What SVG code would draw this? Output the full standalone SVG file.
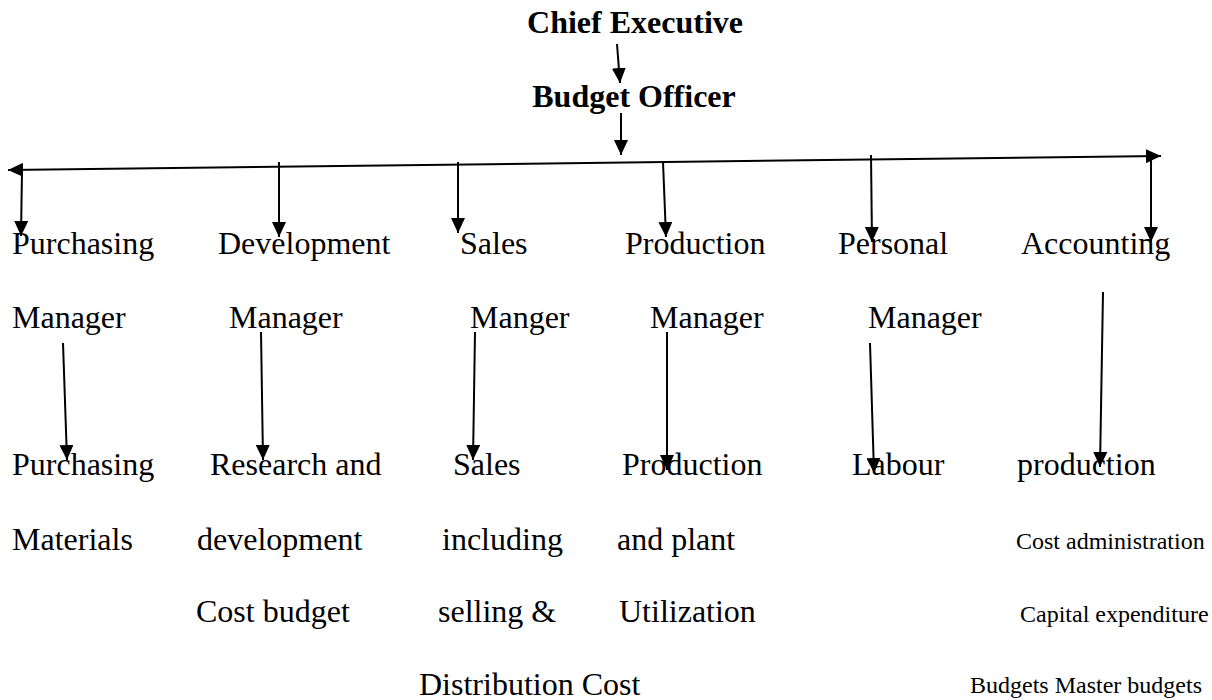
<svg xmlns="http://www.w3.org/2000/svg" width="1212" height="700" viewBox="0 0 1212 700">
<style>
text{font-family:"Liberation Serif","Times New Roman",serif;fill:#000}
.b{font-weight:bold;font-size:32px}
.r{font-size:32px}
.s{font-size:24px}
.c{fill:none;stroke:#000;stroke-width:2}
</style>
<defs>
<marker id="ah" markerUnits="userSpaceOnUse" markerWidth="15" markerHeight="14" refX="15" refY="7" orient="auto-start-reverse" viewBox="0 0 15 14">
<path d="M0,0 L15,7 L0,14 z" fill="#000"/>
</marker>
</defs>
<rect width="1212" height="700" fill="#fff"/>
<g id="connectors">
<line class="c" x1="617" y1="44" x2="620" y2="83" marker-end="url(#ah)"/>
<line class="c" x1="621" y1="113" x2="621" y2="155" marker-end="url(#ah)"/>
<line class="c" x1="8" y1="170" x2="1161" y2="156" marker-start="url(#ah)" marker-end="url(#ah)"/>
<line class="c" x1="22" y1="170" x2="21" y2="236" marker-end="url(#ah)"/>
<line class="c" x1="279" y1="162" x2="279" y2="237" marker-end="url(#ah)"/>
<line class="c" x1="458" y1="162" x2="458" y2="233" marker-end="url(#ah)"/>
<line class="c" x1="663" y1="162" x2="666" y2="237" marker-end="url(#ah)"/>
<line class="c" x1="871" y1="155" x2="872" y2="242" marker-end="url(#ah)"/>
<line class="c" x1="1151" y1="157" x2="1151" y2="242" marker-end="url(#ah)"/>
<line class="c" x1="63" y1="343" x2="67" y2="460" marker-end="url(#ah)"/>
<line class="c" x1="261" y1="332" x2="263" y2="460" marker-end="url(#ah)"/>
<line class="c" x1="475" y1="332" x2="473" y2="460" marker-end="url(#ah)"/>
<line class="c" x1="667" y1="332" x2="667" y2="470" marker-end="url(#ah)"/>
<line class="c" x1="870" y1="343" x2="874" y2="473" marker-end="url(#ah)"/>
<line class="c" x1="1103" y1="292" x2="1100" y2="467" marker-end="url(#ah)"/>
</g>
<g id="chief-executive"><text class="b" x="635" y="33" text-anchor="middle">Chief Executive</text></g>
<g id="budget-officer"><text class="b" x="634" y="107" text-anchor="middle">Budget Officer</text></g>
<g id="purchasing-manager"><text class="r" x="12" y="254">Purchasing</text><text class="r" x="12" y="328">Manager</text></g>
<g id="development-manager"><text class="r" x="218" y="254">Development</text><text class="r" x="229" y="328">Manager</text></g>
<g id="sales-manager"><text class="r" x="460" y="254">Sales</text><text class="r" x="470" y="328">Manger</text></g>
<g id="production-manager"><text class="r" x="625" y="254">Production</text><text class="r" x="650" y="328">Manager</text></g>
<g id="personal-manager"><text class="r" x="838" y="254">Personal</text><text class="r" x="868" y="328">Manager</text></g>
<g id="accounting"><text class="r" x="1021" y="254">Accounting</text></g>
<g id="purchasing-materials"><text class="r" x="12" y="475">Purchasing</text><text class="r" x="12" y="550">Materials</text></g>
<g id="research-development"><text class="r" x="210" y="475">Research and</text><text class="r" x="197" y="550">development</text><text class="r" x="196" y="622">Cost budget</text></g>
<g id="sales-budget"><text class="r" x="453" y="475">Sales</text><text class="r" x="442" y="550">including</text><text class="r" x="438" y="622">selling &amp;</text><text class="r" x="419" y="695">Distribution Cost</text></g>
<g id="production-budget"><text class="r" x="622" y="475">Production</text><text class="r" x="617" y="550">and plant</text><text class="r" x="619" y="622">Utilization</text></g>
<g id="labour"><text class="r" x="852" y="475">Labour</text></g>
<g id="accounting-budgets"><text class="r" x="1017" y="475">production</text><text class="s" x="1016" y="549">Cost administration</text><text class="s" x="1020" y="622">Capital expenditure</text><text class="s" x="970" y="693">Budgets Master budgets</text></g>
</svg>
